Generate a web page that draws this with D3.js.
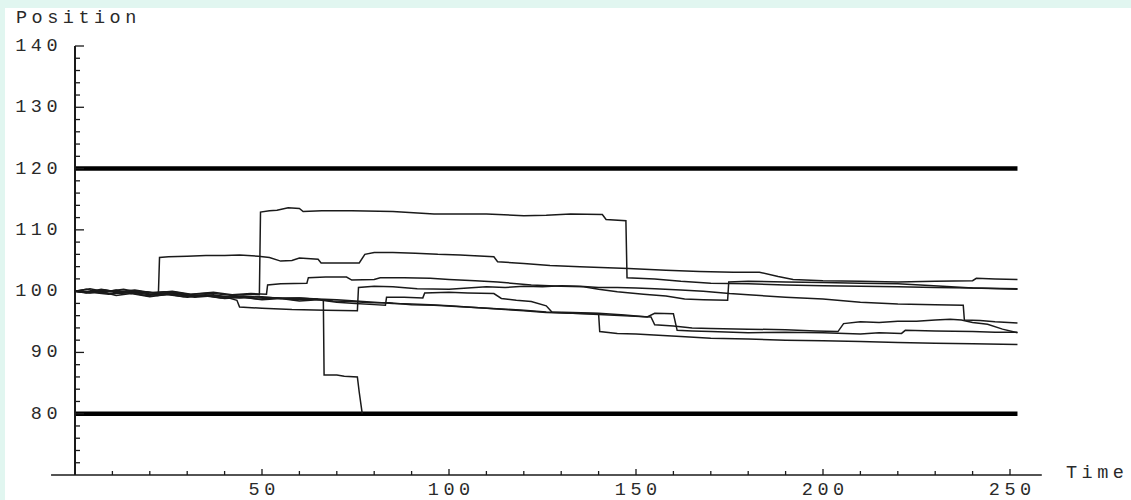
<!DOCTYPE html>
<html>
<head>
<meta charset="utf-8">
<script src="https://cdn.jsdelivr.net/npm/d3@7"></script>
<style>
  html, body { margin: 0; padding: 0; background: #e1f6f0; }
  svg { display: block; }
  .lbl { font-family: "Courier New", "Liberation Mono", monospace; font-size: 18.5px; letter-spacing: 4.5px; fill: #2a2a2a; }
</style>
</head>
<body>
<svg id="chart" width="1131" height="500"></svg>
<script>
// Simulated price paths over 252 trading days, knocked out at the 80 / 120 barriers.
const barriers = [80, 120];
const horizon = 252;

const xMajorTicks = [50, 100, 150, 200, 250];
const xMinorTicks = [10, 20, 30, 40, 60, 70, 80, 90, 110, 120, 130, 140, 160, 170, 180, 190, 210, 220, 230, 240];
const yMajorTicks = [80, 90, 100, 110, 120, 130, 140];
const yMinorTicks = d3.range(72, 140, 2).filter(v => v % 10 !== 0);

const xTitle = "Time";
const yTitle = "Position";

// each path: [time, position]
const pathA = [[0,100],[4,99.7],[8,100.1],[12,99.6],[17,99.9],[22,99.3],[27,99.6],[32,99.0],[38,99.3],[44,98.9],[50,99.1],[55,98.8],[60,98.9],[66.4,98.6],[66.6,86.3],[70,86.3],[72,86.1],[75.5,86.0],[76,83.5],[76.8,80]];

const pathB = [[0,100],[3,100.3],[7,99.8],[11,100.2],[15,99.6],[19,99.9],[22.3,99.6],[22.6,105.5],[25,105.6],[30,105.7],[35,105.8],[40,105.8],[44,105.9],[49,105.7],[52,105.5],[55,104.9],[58,105.0],[60,105.4],[65,105.2],[65.8,104.6],[70,104.6],[76,104.6],[77.5,106.0],[80,106.3],[85,106.3],[91,106.2],[97,106.0],[103,105.9],[112,105.6],[113,104.8],[120,104.5],[127,104.2],[135,104.0],[148,103.7],[158,103.4],[167,103.2],[176,103.1],[183,103.1],[188,102.4],[192,101.9],[200,101.7],[210,101.6],[220,101.5],[230,101.6],[240,101.7],[241,102.1],[246,102.0],[252,101.9]];

const pathC = [[0,100],[4,100.4],[8,99.9],[13,100.3],[18,99.7],[24,99.9],[30,99.4],[36,99.7],[42,99.3],[47,99.5],[49.3,99.4],[49.6,112.9],[52,113.1],[54,113.2],[57,113.6],[60,113.5],[61,113.0],[66,113.1],[74,113.1],[85,113.0],[96,112.6],[110,112.6],[120,112.3],[126,112.4],[132.5,112.6],[141,112.5],[142,111.7],[147.3,111.5],[147.6,102.2],[155,102.0],[162,101.6],[170,101.3],[180,101.2],[190,101.0],[200,100.9],[210,100.8],[220,100.7],[230,100.6],[240,100.5],[252,100.4]];

const pathD = [[0,100],[3,99.8],[7,100.3],[11,99.9],[16,100.2],[21,99.7],[26,100.0],[31,99.5],[37,99.8],[42,99.4],[47,99.6],[51.2,99.5],[51.5,101.0],[55,101.2],[62,101.3],[62.4,102.2],[67,102.3],[72.6,102.3],[74,101.8],[80,101.9],[81.6,102.2],[88,102.2],[95,102.1],[100,101.9],[107,101.7],[113,101.5],[122,101.0],[130,100.8],[136,100.7],[140,100.3],[145,99.9],[152,99.5],[158,99.2],[163,98.7],[168,98.6],[174.5,98.5],[174.8,101.5],[180,101.6],[190,101.5],[200,101.4],[210,101.3],[220,101.2],[226,101.0],[232,100.8],[240,100.5],[252,100.3]];

const pathE = [[0,100],[4,99.9],[8,100.2],[12,99.8],[17,100.0],[22,99.6],[27,99.8],[32,99.3],[37,99.4],[41,98.9],[43.3,98.5],[44,97.4],[50,97.2],[58,97.0],[67,96.9],[75.5,96.8],[75.8,100.6],[80,100.8],[85,100.7],[91.5,100.4],[100,100.3],[105,100.5],[110,100.7],[115,100.6],[120,100.8],[125,100.7],[130,100.9],[135,100.8],[140,100.6],[145,100.6],[150,100.5],[155,100.4],[162,100.2],[168,100.0],[175,99.6],[180,99.4],[190,99.0],[200,98.7],[210,98.2],[220,97.9],[230,97.8],[237.5,97.7],[237.8,95.3],[242,95.2],[246,95.0],[252,94.8]];

const pathF = [[0,100],[3,99.7],[7,99.9],[11,99.3],[15,99.6],[20,99.1],[25,99.5],[30,99.0],[35,99.3],[40,98.8],[45,99.0],[50,98.6],[55,98.8],[60,98.4],[65,98.6],[70,98.2],[75,98.0],[80,97.8],[83,97.7],[83.3,99.0],[88,99.0],[93,98.9],[93.5,99.7],[100,99.8],[105,99.7],[112,99.6],[114,98.8],[118,98.5],[122,98.3],[126,97.6],[127.5,96.6],[133,96.5],[140,96.4],[147,96.1],[153,95.8],[155,96.4],[160,96.3],[161,93.6],[165,93.5],[170,93.4],[180,93.2],[190,93.3],[200,93.2],[210,93.0],[215,93.2],[221,93.1],[222,93.6],[230,93.5],[240,93.4],[246,93.3],[252,93.3]];

const pathG = [[0,100],[5,99.9],[10,99.6],[15,99.8],[20,99.4],[25,99.6],[30,99.2],[35,99.4],[40,99.0],[45,99.2],[50,99.0],[55,98.9],[60,98.9],[65,98.7],[70,98.6],[75,98.4],[80,98.2],[85,98.0],[90,97.9],[95,97.8],[100,97.6],[105,97.4],[110,97.2],[115,97.0],[120,96.8],[126,96.5],[133,96.4],[140,96.3],[140.3,93.4],[145,93.1],[150,93.0],[156,92.8],[162,92.6],[170,92.3],[180,92.2],[190,92.0],[200,91.9],[210,91.8],[220,91.6],[230,91.5],[240,91.4],[252,91.3]];

const pathH = [[0,100],[4,99.8],[9,99.5],[14,99.8],[19,99.3],[24,99.5],[29,99.1],[34,99.3],[39,98.9],[44,99.1],[49,98.7],[54,98.9],[59,98.6],[64,98.7],[69,98.4],[74,98.3],[79,98.1],[84,98.1],[90,97.8],[96,97.7],[102,97.5],[108,97.3],[114,97.1],[120,96.9],[126,96.6],[133,96.4],[140,96.2],[147,96.0],[154,95.8],[155,94.5],[160,94.3],[165,94.0],[170,93.9],[180,93.8],[190,93.7],[198,93.5],[204,93.4],[205.5,94.7],[210,95.0],[215,94.9],[220,95.1],[225,95.1],[230,95.3],[234,95.4],[237,95.3],[240,94.9],[244,94.6],[248,93.8],[252,93.2]];

const paths = [pathA, pathB, pathC, pathD, pathE, pathF, pathG, pathH];

const svg = d3.select("#chart");

// white drawing area
svg.append("rect").attr("x", 5).attr("y", 8).attr("width", 1126).attr("height", 492).attr("fill", "#ffffff");

const x = d3.scaleLinear().domain([0, 250]).range([75, 1010]);
const y = d3.scaleLinear().domain([70, 140]).range([475, 46]);

const ink = "#1a1a1a";

// barrier levels
svg.append("g").selectAll("line").data(barriers).join("line")
  .attr("x1", x(0)).attr("x2", x(horizon))
  .attr("y1", d => y(d)).attr("y2", d => y(d))
  .attr("stroke", "#000").attr("stroke-width", 4.5);

// paths
const line = d3.line().x(d => x(d[0])).y(d => y(d[1]));
svg.append("g").selectAll("path").data(paths).join("path")
  .attr("d", line)
  .attr("fill", "none")
  .attr("stroke", ink)
  .attr("stroke-width", 1.5)
  .attr("stroke-linejoin", "miter");

// axes
const axes = svg.append("g").attr("stroke", ink);
axes.append("line").attr("x1", x(-6.4)).attr("x2", x(258.5)).attr("y1", y(70)).attr("y2", y(70)).attr("stroke-width", 1.5);
axes.append("line").attr("x1", x(0)).attr("x2", x(0)).attr("y1", y(70)).attr("y2", y(140)).attr("stroke-width", 2);

axes.selectAll(".xmaj").data(xMajorTicks).join("line")
  .attr("x1", d => x(d)).attr("x2", d => x(d))
  .attr("y1", y(70)).attr("y2", y(70) - 6).attr("stroke-width", 1.3);
axes.selectAll(".xmin").data(xMinorTicks).join("line")
  .attr("x1", d => x(d)).attr("x2", d => x(d))
  .attr("y1", y(70)).attr("y2", y(70) - 4).attr("stroke-width", 1.3);
axes.selectAll(".ymaj").data(yMajorTicks).join("line")
  .attr("x1", x(0)).attr("x2", x(0) + 9)
  .attr("y1", d => y(d)).attr("y2", d => y(d)).attr("stroke-width", 1.3);
axes.selectAll(".ymin").data(yMinorTicks).join("line")
  .attr("x1", x(0)).attr("x2", x(0) + 5)
  .attr("y1", d => y(d)).attr("y2", d => y(d)).attr("stroke-width", 1.3);

// tick labels
svg.append("g").selectAll("text").data(xMajorTicks).join("text")
  .attr("class", "lbl")
  .attr("x", d => x(d) + 2.2).attr("y", y(70) + 20)
  .attr("text-anchor", "middle")
  .text(d => d);
svg.append("g").selectAll("text").data(yMajorTicks).join("text")
  .attr("class", "lbl")
  .attr("x", 62).attr("y", d => y(d) + 5)
  .attr("text-anchor", "end")
  .text(d => d);

// axis titles
svg.append("text").attr("class", "lbl").attr("x", 16).attr("y", 23).text(yTitle);
svg.append("text").attr("class", "lbl").attr("x", 1066).attr("y", 478).text(xTitle);
</script>
</body>
</html>
